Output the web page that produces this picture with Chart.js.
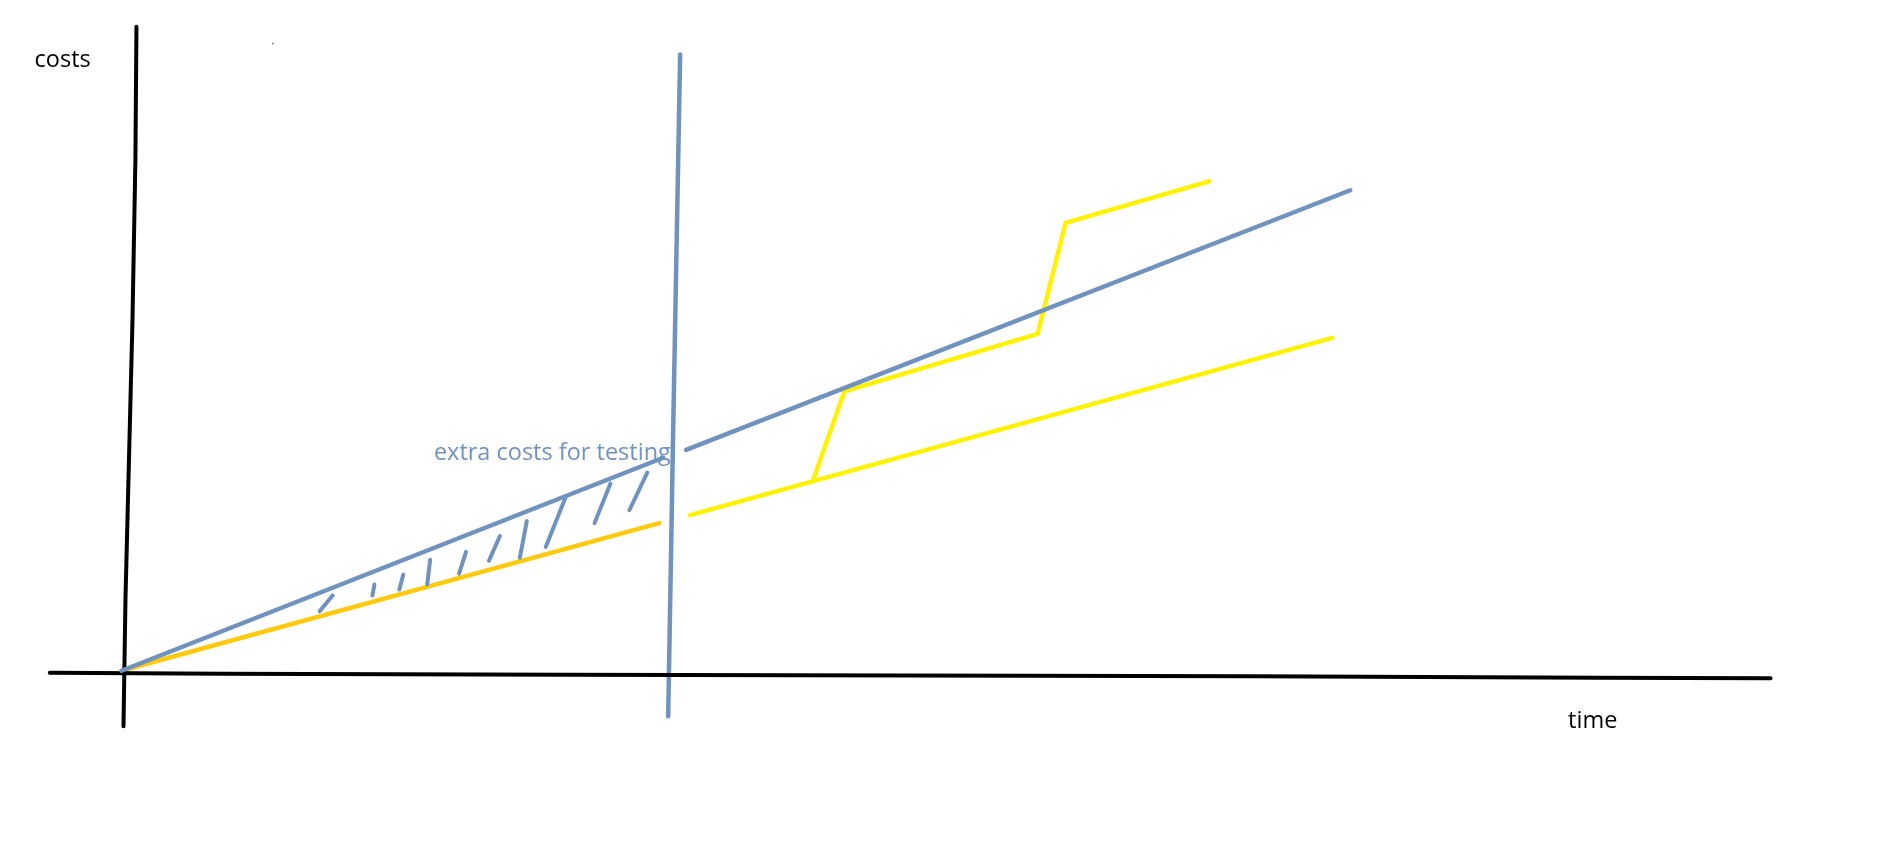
<!DOCTYPE html>
<html>
<head>
<meta charset="utf-8">
<title>costs over time</title>
<script src="https://cdn.jsdelivr.net/npm/chart.js@4.4.1/dist/chart.umd.min.js"></script>
<style>
  html, body { margin: 0; padding: 0; background: #fff; }
  #chart { display: block; }
</style>
</head>
<body>
<canvas id="chart" width="1903" height="860"></canvas>
<script>
// units: time to the right, costs upward, origin where the axes cross
const timeRange = [-11.8, 178.5];
const costRange = [-18.7, 67.3];

// hand drawn axes
const xAxisLine = [[-7.2, -0.2], [10.2, -0.3], [44.6, -0.4], [113.6, -0.55], [148.2, -0.7], [165.6, -0.75]];
const yAxisLine = [[1.5, 65.0], [1.4, 51.8], [1.1, 35.3], [0.4, 7.3], [0.2, -5.6]];

// project with testing (blue), broken at the release line
const withTestingBefore = [[0, 0], [54.4, 21.5]];
const withTestingAfter = [[56.7, 22.3], [123.4, 48.5]];

// project without testing
const noTestingBefore = [[0, 0], [54.0, 14.9]];               // gold
const noTestingAfter = [[57.1, 15.7], [121.6, 33.6]];          // yellow
const noTestingBugfixes = [[69.4, 19.1], [72.6, 28.2], [92.0, 34.0], [94.8, 45.2], [109.2, 49.4]];

// release line
const releaseLine = [[56.1, 62.2], [55.4, 24.3], [54.9, -4.6]];

// hatching between the two lines before release
const hatchStrokes = [
  [[19.9, 6.0], [21.2, 7.6]],
  [[25.2, 7.6], [25.4, 8.7]],
  [[27.9, 8.2], [28.3, 9.7]],
  [[30.7, 8.7], [31.0, 11.2]],
  [[33.9, 9.8], [34.6, 12.0]],
  [[36.9, 11.1], [38.0, 13.6]],
  [[40.0, 11.4], [40.7, 15.1]],
  [[42.6, 12.5], [44.6, 17.5]],
  [[47.5, 14.9], [49.1, 18.9]],
  [[51.0, 16.2], [52.8, 20.0]]
];

const strayDot = [[15.2, 63.3]];

const labels = [
  { text: 'costs', at: [-8.73, 60.97], color: '#000000' },
  { text: 'time', at: [145.27, -5.77], color: '#000000' },
  { text: 'extra costs for testing', at: [31.37, 21.23], color: '#7092be' }
];

const BLUE = '#7092be';
const YELLOW = '#fff200';
const GOLD = '#ffc90e';

const pts = arr => arr.map(p => ({ x: p[0], y: p[1] }));

// strokes joined with null gaps so they stay separate
const hatchData = [];
hatchStrokes.forEach(s => {
  hatchData.push(...pts(s));
  hatchData.push({ x: s[1][0], y: null });
});

function line(data, color, width) {
  return {
    data: pts(data),
    borderColor: color,
    borderWidth: width,
    pointRadius: 0,
    fill: false
  };
}

const labelPlugin = {
  id: 'labels',
  afterDatasetsDraw(chart) {
    const ctx = chart.ctx;
    const xs = chart.scales.x, ys = chart.scales.y;
    ctx.save();
    ctx.font = '23.5px "Open Sans"';
    ctx.textBaseline = 'alphabetic';
    ctx.textAlign = 'left';
    labels.forEach(l => {
      ctx.fillStyle = l.color;
      ctx.fillText(l.text, xs.getPixelForValue(l.at[0]), ys.getPixelForValue(l.at[1]));
    });
    ctx.restore();
  }
};

const ctx = document.getElementById('chart').getContext('2d');
new Chart(ctx, {
  type: 'line',
  data: {
    datasets: [
      line(withTestingBefore, BLUE, 4.5),
      line(withTestingAfter, BLUE, 4.5),
      { data: hatchData, borderColor: BLUE, borderWidth: 4, pointRadius: 0, spanGaps: false, fill: false },
      line(xAxisLine, '#000000', 4),
      line(yAxisLine, '#000000', 4),
      line(releaseLine, BLUE, 4.5),
      line(noTestingBefore, GOLD, 4.5),
      line(noTestingAfter, YELLOW, 4.5),
      line(noTestingBugfixes, YELLOW, 4.5),
      { type: 'scatter', data: pts(strayDot), pointRadius: 0.8, pointBackgroundColor: '#555', pointBorderWidth: 0 }
    ]
  },
  options: {
    responsive: false,
    devicePixelRatio: 1,
    animation: false,
    layout: { padding: 0 },
    elements: {
      line: { tension: 0, borderCapStyle: 'round', borderJoinStyle: 'round' }
    },
    plugins: {
      legend: { display: false },
      tooltip: { enabled: false }
    },
    scales: {
      x: { type: 'linear', min: timeRange[0], max: timeRange[1], display: false },
      y: { type: 'linear', min: costRange[0], max: costRange[1], display: false }
    }
  },
  plugins: [labelPlugin]
});
</script>
</body>
</html>
